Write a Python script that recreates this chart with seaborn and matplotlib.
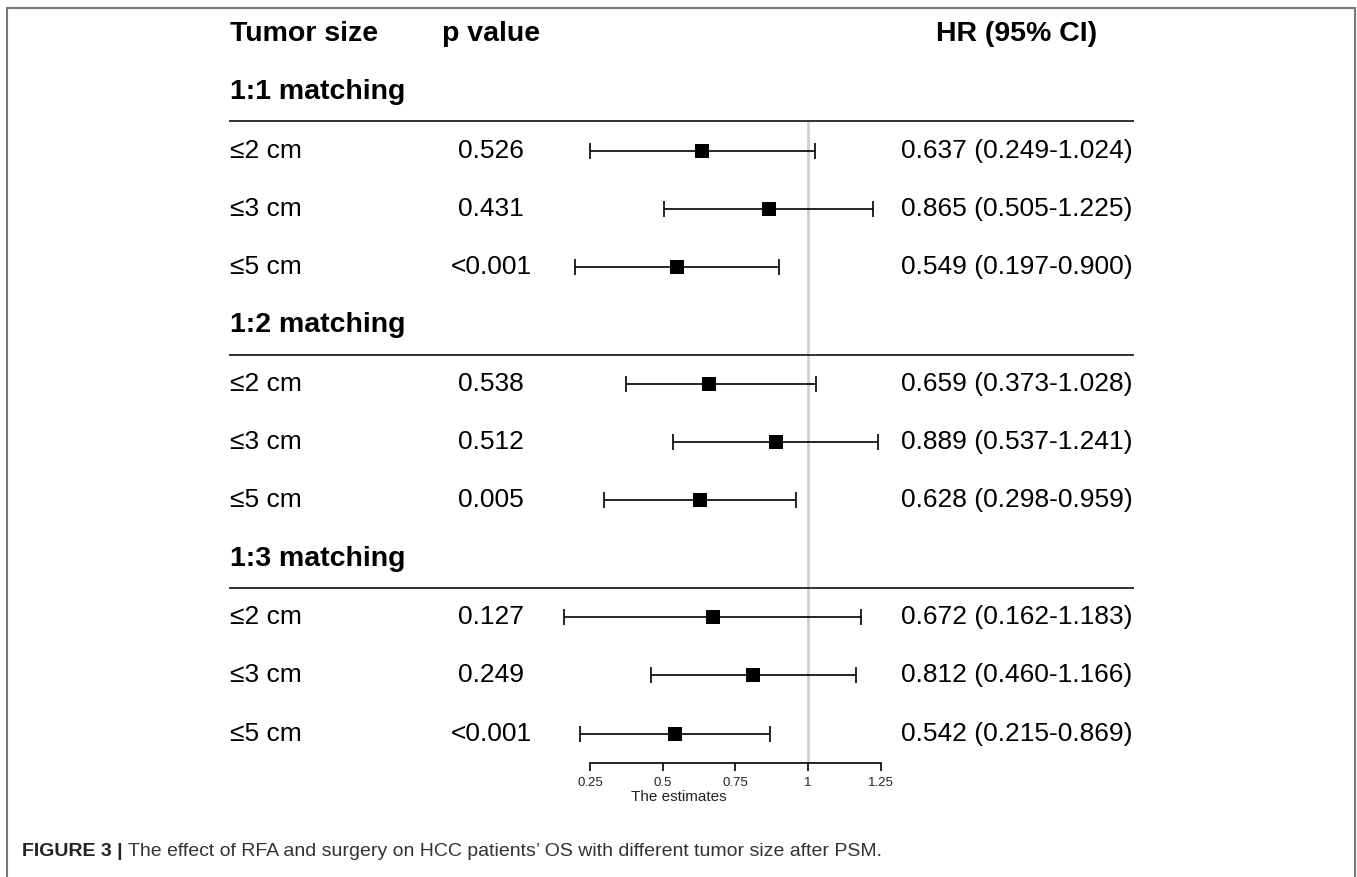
import numpy as np
import pandas as pd
import matplotlib
matplotlib.use("Agg")
import matplotlib.pyplot as plt
import matplotlib.transforms as mtransforms
from matplotlib.lines import Line2D
import seaborn as sns

# ---------------- data ----------------
groups = ["1:1 matching", "1:2 matching", "1:3 matching"]
sizes = ["≤2 cm", "≤3 cm", "≤5 cm"]
p_values = ["0.526", "0.431", "<0.001",
            "0.538", "0.512", "0.005",
            "0.127", "0.249", "<0.001"]
hr = [0.637, 0.865, 0.549,
      0.659, 0.889, 0.628,
      0.672, 0.812, 0.542]
ci_low = [0.249, 0.505, 0.197,
          0.373, 0.537, 0.298,
          0.162, 0.460, 0.215]
ci_high = [1.024, 1.225, 0.900,
           1.028, 1.241, 0.959,
           1.183, 1.166, 0.869]
x_ticks = [0.25, 0.5, 0.75, 1, 1.25]
x_tick_labels = ["0.25", "0.5", "0.75", "1", "1.25"]
headers = ["Tumor size", "p value", "HR (95% CI)"]
x_label = "The estimates"
caption_bold = "FIGURE 3 |"
caption_text = " The effect of RFA and surgery on HCC patients\u2019 OS with different tumor size after PSM."

# ---------------- layout ----------------
W, H = 1357, 877
sns.set_theme(style="white")
plt.rcParams["font.family"] = ["Liberation Sans", "DejaVu Sans"]
plt.rcParams["text.color"] = "black"
plt.rcParams["axes.labelcolor"] = "black"
plt.rcParams["xtick.color"] = "black"

fig = plt.figure(figsize=(W / 100, H / 100), dpi=100)
ax = fig.add_axes([0, 0, 1, 1])
ax.set_facecolor("none")

px_per_unit = 290.5
x0_px = 590.0
xmin = 0.25 - x0_px / px_per_unit
xmax = xmin + W / px_per_unit
ax.set_xlim(xmin, xmax)

row_px = 58.3
y0_px = 34.0
ax.set_ylim((H - y0_px) / row_px, -y0_px / row_px)

# build rows
rows = []
r = 1
for gi, g in enumerate(groups):
    group_row = r
    r += 1
    for si, s in enumerate(sizes):
        idx = gi * 3 + si
        rows.append(dict(group=g, group_row=group_row, size=s, row=r,
                         p=p_values[idx], hr=hr[idx], lo=ci_low[idx], hi=ci_high[idx]))
        r += 1
df = pd.DataFrame(rows)
axis_row = df["row"].max() + 0.5

tr = mtransforms.blended_transform_factory(ax.transAxes, ax.transData)
col_left = 230 / W
col_p = 491 / W
col_hr = 1017 / W
line_l, line_r = 229 / W, 1134 / W

# headers
ax.text(col_left, 0, headers[0], transform=tr, ha="left", va="center", fontsize=20.5, fontweight="bold")
ax.text(col_p, 0, headers[1], transform=tr, ha="center", va="center", fontsize=20.5, fontweight="bold")
ax.text(col_hr, 0, headers[2], transform=tr, ha="center", va="center", fontsize=20.5, fontweight="bold")

# group labels and separator lines
for g, gr in df.groupby("group", sort=False)["group_row"].first().items():
    ax.text(col_left, gr, g, transform=tr, ha="left", va="center", fontsize=20.5, fontweight="bold")
    ax.plot([line_l, line_r], [gr + 0.5, gr + 0.5], transform=tr, color="#222222", lw=1.3,
            solid_capstyle="butt")

# reference line at 1
ax.vlines(1, df["group_row"].min() + 0.5, axis_row, color="#d0d0d0", lw=2, zorder=1)

# row texts
for _, rw in df.iterrows():
    ax.text(col_left, rw["row"], rw["size"], transform=tr, ha="left", va="center", fontsize=19)
    ax.text(col_p, rw["row"], rw["p"], transform=tr, ha="center", va="center", fontsize=19)
    ax.text(col_hr, rw["row"], f'{rw["hr"]:.3f} ({rw["lo"]:.3f}-{rw["hi"]:.3f})',
            transform=tr, ha="center", va="center", fontsize=19)

# error bars + squares
ax.errorbar(df["hr"], df["row"], xerr=[df["hr"] - df["lo"], df["hi"] - df["hr"]],
            fmt="none", ecolor="black", elinewidth=1.2, capsize=6, capthick=1.2, zorder=2)
sns.scatterplot(data=df, x="hr", y="row", marker="s", color="black", s=100,
                edgecolor="black", linewidth=0, ax=ax, zorder=3, legend=False)

# axis
for side in ["top", "left", "right"]:
    ax.spines[side].set_visible(False)
ax.spines["bottom"].set_position(("data", axis_row))
ax.spines["bottom"].set_bounds(x_ticks[0], x_ticks[-1])
ax.spines["bottom"].set_color("black")
ax.spines["bottom"].set_linewidth(1.2)
ax.set_xticks(x_ticks)
ax.set_xticklabels(x_tick_labels, fontsize=9.5, color="#222222")
ax.tick_params(axis="x", direction="out", length=6, width=1.2, color="black", pad=4, bottom=True)
ax.set_yticks([])
ax.set_xlabel(x_label, fontsize=11, labelpad=1, color="#222222")
ax.set_ylabel("")

# frame (top, left, right)
frame_color = "#777777"
fig.add_artist(Line2D([7 / W, 7 / W], [0, 1 - 8 / H], transform=fig.transFigure, color=frame_color, lw=1.5))
fig.add_artist(Line2D([1355 / W, 1355 / W], [0, 1 - 8 / H], transform=fig.transFigure, color=frame_color, lw=1.5))
fig.add_artist(Line2D([7 / W, 1355 / W], [1 - 8 / H, 1 - 8 / H], transform=fig.transFigure, color=frame_color, lw=1.5))

# caption
cap_y = 1 - 851 / H
t1 = fig.text(22 / W, cap_y, caption_bold, ha="left", va="center", fontsize=14, fontweight="bold", color="#222222")
fig.canvas.draw()
bb = t1.get_window_extent(renderer=fig.canvas.get_renderer())
fig.text(bb.x1 / W, cap_y, caption_text, ha="left", va="center", fontsize=14, color="#333333")

fig.savefig("out.png", dpi=100)
